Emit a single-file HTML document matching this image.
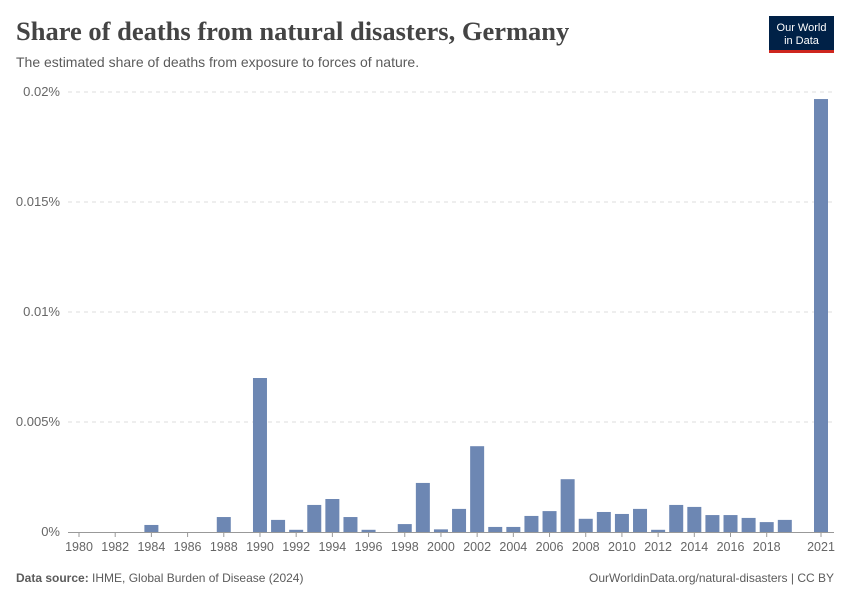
<!DOCTYPE html>
<html><head><meta charset="utf-8"><style>
body{margin:0;background:#fff;font-family:"Liberation Sans",sans-serif;}
svg text{font-family:"Liberation Sans",sans-serif;}
</style></head><body>
<svg id="chart" width="850" height="600" xmlns="http://www.w3.org/2000/svg">
<rect width="850" height="600" fill="#fff"/>
<text x="16" y="40" style="font-family:'Liberation Serif',serif;font-weight:bold" font-size="26.5" fill="#444">Share of deaths from natural disasters, Germany</text>
<text x="16" y="67" font-size="14" fill="#5b5b5b">The estimated share of deaths from exposure to forces of nature.</text>
<g>
<rect x="769" y="16" width="65" height="36" fill="#002147"/>
<rect x="769" y="50" width="65" height="3" fill="#ce261e"/>
<text x="801.5" y="31" font-size="11" fill="#fff" text-anchor="middle">Our World</text>
<text x="801.5" y="44" font-size="11" fill="#fff" text-anchor="middle">in Data</text>
</g>
<g id="grid"></g><g id="bars"></g><g id="xaxis"></g>
<text x="16" y="582" font-size="12" fill="#5b5b5b"><tspan font-weight="bold">Data source:</tspan> IHME, Global Burden of Disease (2024)</text>
<text x="834" y="582" font-size="12" fill="#5b5b5b" text-anchor="end">OurWorldinData.org/natural-disasters | CC BY</text>
</svg>
<script>
const years=[1984,1988,1990,1991,1992,1993,1994,1995,1996,1998,1999,2000,2001,2002,2003,2004,2005,2006,2007,2008,2009,2010,2011,2012,2013,2014,2015,2016,2017,2018,2019,2021];
const values=[0.00032,0.00068,0.0070,0.00055,0.0001,0.00123,0.0015,0.00068,0.0001,0.00036,0.00223,0.00012,0.00105,0.0039,0.00023,0.00023,0.00073,0.00095,0.0024,0.0006,0.00091,0.00082,0.00105,0.0001,0.00123,0.00114,0.00077,0.00077,0.00064,0.00045,0.00055,0.01968];
const yTicks=[0,0.005,0.01,0.015,0.02];
const yTickLabels=["0%","0.005%","0.01%","0.015%","0.02%"];
const xTicks=[1980,1982,1984,1986,1988,1990,1992,1994,1996,1998,2000,2002,2004,2006,2008,2010,2012,2014,2016,2018,2021];
const NS="http://www.w3.org/2000/svg";
const x=yr=>79+(yr-1980)*(821-79)/41;
const y=v=>532-v*(440/0.02);
function mk(t,a,p){const e=document.createElementNS(NS,t);for(const k in a)e.setAttribute(k,a[k]);p.appendChild(e);return e;}
const grid=document.getElementById('grid'),bars=document.getElementById('bars'),xa=document.getElementById('xaxis');
yTicks.forEach((v,i)=>{
 if(v>0){const l=mk('line',{x1:68,x2:834,y1:y(v),y2:y(v),stroke:'#ddd','stroke-dasharray':'4,4'},grid);
 
 }
 const t=mk('text',{x:60,y:y(v)+4,'font-size':13,fill:'#666','text-anchor':'end'},grid);t.textContent=yTickLabels[i];
 
 
});
years.forEach((yr,i)=>{
 const r=mk('rect',{x:x(yr)-7,y:y(values[i]),width:14,height:532-y(values[i]),fill:'#6d87b3'},bars);
 
 
});
const ax=mk('line',{x1:68,x2:834,y1:532.5,y2:532.5,stroke:'#999'},xa);


xTicks.forEach(yr=>{
 mk('line',{x1:x(yr),x2:x(yr),y1:532,y2:537,stroke:'#999'},xa);
 const t=mk('text',{x:x(yr),y:551,'font-size':12.5,fill:'#666','text-anchor':'middle'},xa);t.textContent=yr;
 
 
});
</script>
</body></html>
